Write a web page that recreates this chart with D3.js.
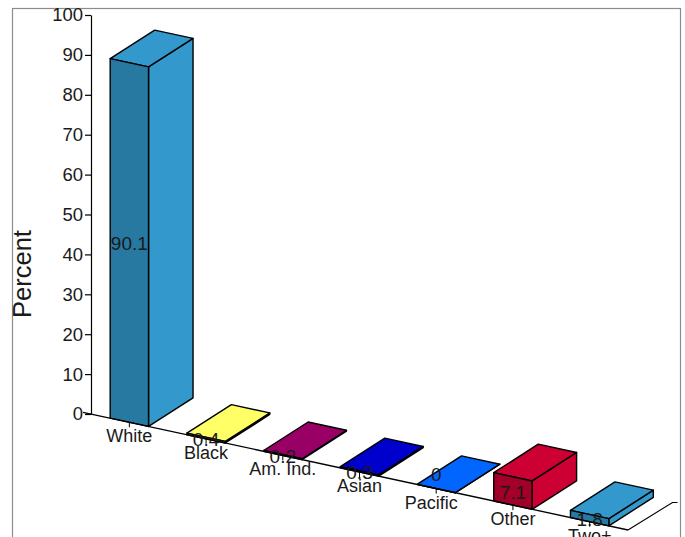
<!DOCTYPE html>
<html>
<head>
<meta charset="utf-8">
<script src="https://cdn.jsdelivr.net/npm/d3@7"></script>
<style>
  html, body { margin: 0; padding: 0; background: #fff; overflow: hidden; }
  svg { display: block; }
  text { font-family: "Liberation Sans", Arial, sans-serif; fill: #1a1a1a; }
</style>
</head>
<body>
<div id="chart"></div>
<script>
let categories = ['White', 'Black', 'Am. Ind.', 'Asian', 'Pacific', 'Other', 'Two+'];
let values     = [90.1, 0.4, 0.2, 0.3, 0, 7.1, 1.8];
let labels     = ['90.1', '0.4', '0.2', '0.3', '0', '7.1', '1.8'];
let colors     = ['#3399cc', '#ffff66', '#990066', '#0000cc', '#0066ff', '#cc0033', '#3399cc'];
let yTicks     = [0, 10, 20, 30, 40, 50, 60, 70, 80, 90, 100];

let width  = 685;
let height = 537;

let axisLeft  = 91;
let axisRight = 628;
let baseY     = 414; // where the value axis meets the floor
let slope     = (530 - baseY) / (axisRight - axisLeft); // the floor line runs downhill
let depth     = {x: 44.5, y: -28.5}; // offset of the back face of every bar

let svg = d3.select('#chart')
  .append('svg')
  .attr('width', width)
  .attr('height', height);

// outer frame, bottom edge falls outside the window
svg.append('rect')
  .attr('x', 12.5)
  .attr('y', 8.5)
  .attr('width', 668)
  .attr('height', 560)
  .attr('fill', 'none')
  .attr('stroke', '#8c8c8c')
  .attr('stroke-width', 1.2);

let yScale = d3.scaleLinear()
  .domain([0, 100])
  .range([baseY, 15]);

let xScale = d3.scaleBand()
  .domain(categories)
  .range([axisLeft, axisRight])
  .paddingInner(0.5)
  .paddingOuter(0.25);

function floorY(x) {
  return baseY + (x - axisLeft) * slope;
}

// value axis
let yAxis = svg.append('g')
  .attr('transform', `translate(${axisLeft},0)`)
  .call(d3.axisLeft(yScale).tickValues(yTicks).tickSize(6).tickPadding(2).tickSizeOuter(0));
yAxis.selectAll('text').style('font-size', '18.5px');
yAxis.selectAll('line, path').attr('stroke', '#000').attr('stroke-width', 1.2);

svg.append('text')
  .attr('transform', 'translate(31,274) rotate(-90)')
  .attr('text-anchor', 'middle')
  .style('font-size', '25.5px')
  .text('Percent');

// bars, one front face, one side, one top
let bars = svg.selectAll('g.bar')
  .data(categories)
  .enter()
  .append('g')
  .attr('class', 'bar')
  .attr('stroke', '#000')
  .attr('stroke-width', 1.4)
  .attr('stroke-linejoin', 'round');

function face(points) {
  return points.map(function(p) { return p.join(','); }).join(' ');
}

function corners(d, i) {
  let x0 = xScale(d);
  let x1 = x0 + xScale.bandwidth();
  let h  = baseY - yScale(values[i]);
  return {x0: x0, x1: x1, y0: floorY(x0), y1: floorY(x1), h: h};
}

// side
bars.append('polygon')
  .attr('fill', function(d, i) { return colors[i]; })
  .attr('points', function(d, i) {
    let c = corners(d, i);
    return face([
      [c.x1, c.y1],
      [c.x1 + depth.x, c.y1 + depth.y],
      [c.x1 + depth.x, c.y1 + depth.y - c.h],
      [c.x1, c.y1 - c.h]
    ]);
  });

// top
bars.append('polygon')
  .attr('fill', function(d, i) { return colors[i]; })
  .attr('points', function(d, i) {
    let c = corners(d, i);
    return face([
      [c.x0, c.y0 - c.h],
      [c.x1, c.y1 - c.h],
      [c.x1 + depth.x, c.y1 + depth.y - c.h],
      [c.x0 + depth.x, c.y0 + depth.y - c.h]
    ]);
  });

// front, darker than the rest
bars.append('polygon')
  .attr('fill', function(d, i) { return d3.rgb(colors[i]).darker(0.65); })
  .attr('points', function(d, i) {
    let c = corners(d, i);
    return face([
      [c.x0, c.y0],
      [c.x1, c.y1],
      [c.x1, c.y1 - c.h],
      [c.x0, c.y0 - c.h]
    ]);
  });

// category axis: a normal axis, then every tick is pushed down the slanted floor
let xAxis = svg.append('g')
  .call(d3.axisBottom(xScale).tickSize(5).tickPadding(2).tickSizeOuter(0));
xAxis.select('.domain').remove();
xAxis.selectAll('.tick')
  .attr('transform', function(d) {
    let x = xScale(d) + xScale.bandwidth() / 2;
    return `translate(${x},${floorY(x)})`;
  });
xAxis.selectAll('line').attr('stroke', '#000').attr('stroke-width', 1);
xAxis.selectAll('text')
  .style('font-size', '18px')
  .attr('dy', '0.72em')
  .attr('dx', function(d) { return d === 'Pacific' ? -5 : 0; }); // sits left of its tick in the original

svg.append('line')
  .attr('x1', axisLeft - 8)
  .attr('y1', floorY(axisLeft - 8))
  .attr('x2', axisRight)
  .attr('y2', floorY(axisRight))
  .attr('stroke', '#000')
  .attr('stroke-width', 1.3);

// depth axis at the right end of the floor
svg.append('polyline')
  .attr('points', face([
    [axisRight, floorY(axisRight)],
    [axisRight + depth.x, floorY(axisRight) + depth.y + 1],
    [axisRight + depth.x + 5, floorY(axisRight) + depth.y + 1]
  ]))
  .attr('fill', 'none')
  .attr('stroke', '#000')
  .attr('stroke-width', 1.1);

// value labels in the middle of each front face, the empty bar's label sits higher up
svg.selectAll('text.value')
  .data(categories)
  .enter()
  .append('text')
  .attr('class', 'value')
  .attr('text-anchor', 'middle')
  .attr('dy', '0.35em')
  .style('font-size', '19px')
  .attr('x', function(d) { return xScale(d) + xScale.bandwidth() / 2; })
  .attr('y', function(d, i) {
    let x = xScale(d) + xScale.bandwidth() / 2;
    let lift = values[i] === 0 ? 15 : 0;
    return floorY(x) - (baseY - yScale(values[i])) / 2 - lift + 1;
  })
  .text(function(d, i) { return labels[i]; });
</script>
</body>
</html>
